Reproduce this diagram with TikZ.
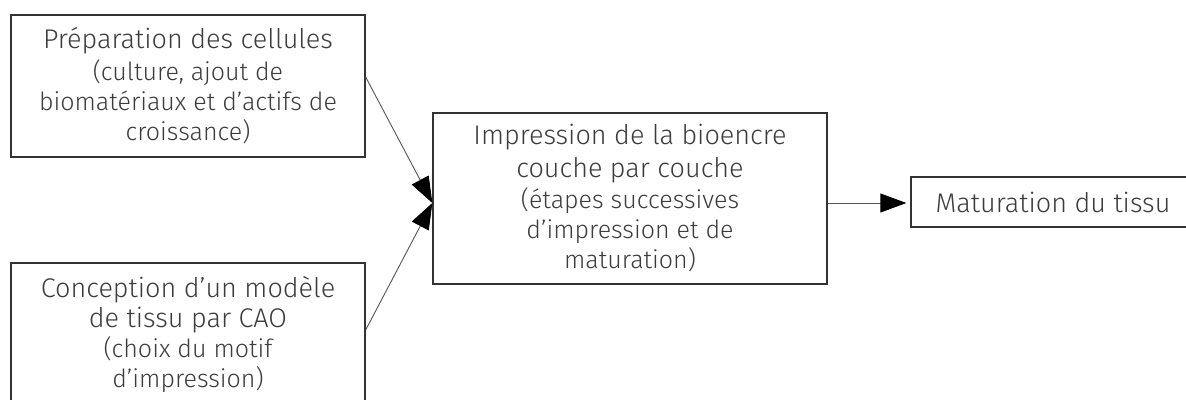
\documentclass[tikz,border=0pt]{standalone}
\usepackage{fontspec}
\setmainfont{Fira Sans Light}
\usetikzlibrary{arrows.meta}
\definecolor{txt}{HTML}{3C3C3C}
\definecolor{boxc}{HTML}{333333}
\definecolor{linec}{HTML}{555555}
\newcommand{\tf}{\fontsize{27}{30}\selectfont}
\newcommand{\sfn}{\fontsize{25}{30}\selectfont}
\begin{document}
\begin{tikzpicture}[x=1pt,y=-1pt,
  box/.style={draw=boxc, line width=1.3pt, fill=white, align=center, inner sep=0pt, text=txt, font=\tf},
  arr/.style={draw=linec, line width=0.9pt, -{Triangle[length=26pt,width=19pt,fill=black,color=black]}}]
\useasboundingbox[fill=white] (0,0) rectangle (1186,399);
\node[box, minimum width=354pt, minimum height=142pt] (prep) at (188,86)
  {Préparation des cellules\\[2pt] \sfn (culture, ajout de\\ \sfn biomatériaux et d’actifs de\\ \sfn croissance)};
\node[box, minimum width=354pt, minimum height=142pt] (cao) at (188,334)
  {Conception d’un modèle\\ de tissu par CAO\\ \sfn (choix du motif\\ \sfn d’impression)};
\node[box, minimum width=394pt, minimum height=171pt] (impr) at (630,198.5)
  {Impression de la bioencre\\[3pt] couche par couche\\[1pt] \sfn (étapes successives\\ \sfn d’impression et de\\ \sfn maturation)};
\node[box, minimum width=284pt, minimum height=50pt] (mat) at (1053,202)
  {Maturation du tissu};
\coordinate (in) at ([yshift=-4.5pt]impr.west);
\draw[arr] ([yshift=9pt]prep.east) -- (in);
\draw[arr] ([yshift=4pt]cao.east) -- (in);
\draw[arr] ([yshift=-4.5pt]impr.east) -- ([xshift=-4pt,yshift=-1pt]mat.west);
\end{tikzpicture}
\end{document}
